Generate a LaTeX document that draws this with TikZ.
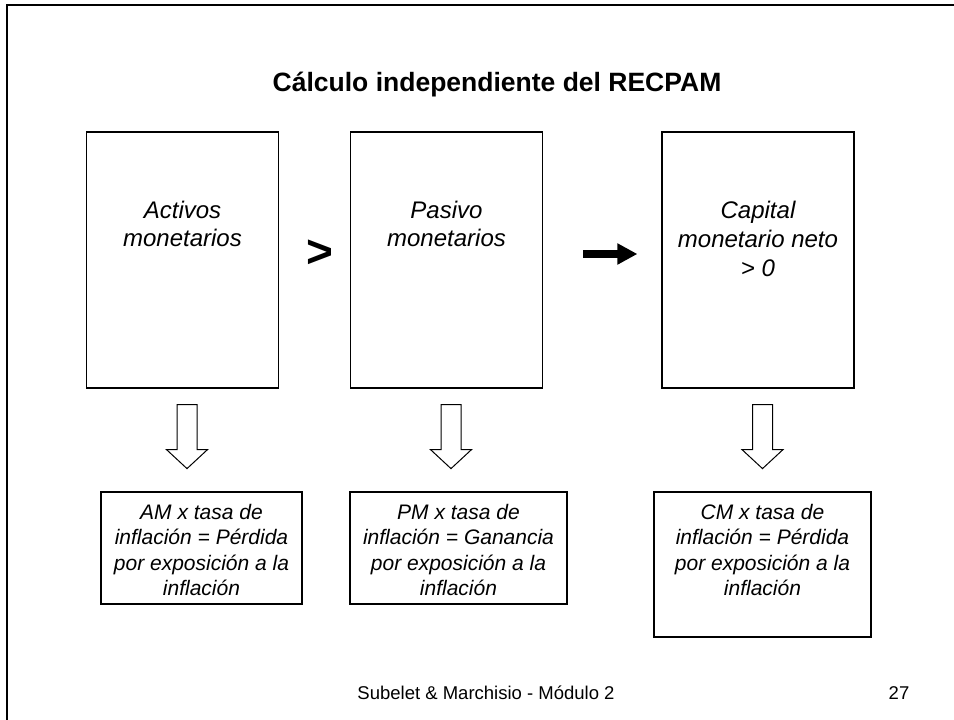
\documentclass[tikz,border=0pt]{standalone}
\usepackage{fontspec}
\setmainfont{Liberation Sans}
\usetikzlibrary{calc,arrows.meta}
\begin{document}
\begin{tikzpicture}[x=1pt,y=-1pt,
  frame/.style={line width=2.2pt,black},
  topbox/.style={draw=black,line width=1.2pt,minimum width=192pt,minimum height=256pt,inner sep=0pt},
  botbox/.style={draw=black,line width=1.2pt,minimum width=217pt,minimum height=112pt,inner sep=0pt},
  toptext/.style={align=center,inner sep=0pt,font=\fontsize{24}{28.8}\selectfont\itshape},
  bottext/.style={align=center,inner sep=0pt,font=\fontsize{21}{25.5}\selectfont\itshape},
  hollow/.style={draw=black,line width=1pt,fill=white},
  titlefont/.style={font=\fontsize{26.5}{30}\selectfont\bfseries},
  footfont/.style={font=\fontsize{18.5}{22}\selectfont}]
\useasboundingbox (0,0) rectangle (954,720);
% slide frame
\draw[frame] (7,720) -- (7,5) -- (954,5);
% title
\node[titlefont,inner sep=0pt] (title) at (497,85) {Cálculo independiente del RECPAM};
% top boxes
\node[topbox] (b1) at (182.5,260) {};
\node[topbox] (b2) at (446.5,260) {};
\node[topbox] (b3) at (758,260) {};
\node[toptext] (t1) at (182.5,224) {Activos\\monetarios};
\node[toptext] (t2) at (446.5,224) {Pasivo\\monetarios};
\node[toptext] (t3) at (758,239) {Capital\\monetario neto\\> 0};
% greater-than sign
\node[inner sep=0pt,font=\fontsize{46}{46}\selectfont\bfseries] (gt) at (319.5,253.5) {>};
% black arrow
\coordinate (ka) at ($(b2.east)+(40,-6)$);
\coordinate (kb) at ($(b3.west)+(-24,-6)$);
\draw[line width=8pt,-{Triangle[length=20pt 0,width=20pt 0]}] (ka) -- (kb);
% bottom boxes
\node[botbox,minimum width=201pt] (c1) at (201.5,548) {};
\node[botbox] (c2) at (458.5,548) {};
\node[botbox,minimum height=145pt] (c3) at (762.5,564.5) {};
\node[bottext] (d1) at (201.5,550) {AM x tasa de\\inflación = Pérdida\\por exposición a la\\inflación};
\node[bottext] (d2) at (458.5,550) {PM x tasa de\\inflación = Ganancia\\por exposición a la\\inflación};
\node[bottext] (d3) at (762.5,550) {CM x tasa de\\inflación = Pérdida\\por exposición a la\\inflación};
% hollow down arrows
\foreach \b in {b1,b2,b3}{
  \coordinate (a-\b) at ($(\b.south)+(4.5,16)$);
  \draw[hollow] (a-\b) ++(-10,0) -- ++(20,0) -- ++(0,45) -- ++(10.5,0)
     -- ++(-20.5,19) -- ++(-20.5,-19) -- ++(10.5,0) -- cycle;
}
% footer
\node[footfont,inner sep=0pt] (foot) at (486,693) {Subelet \& Marchisio - Módulo 2};
\node[footfont,inner sep=0pt] (page) at (899,693) {27};
\end{tikzpicture}
\end{document}
